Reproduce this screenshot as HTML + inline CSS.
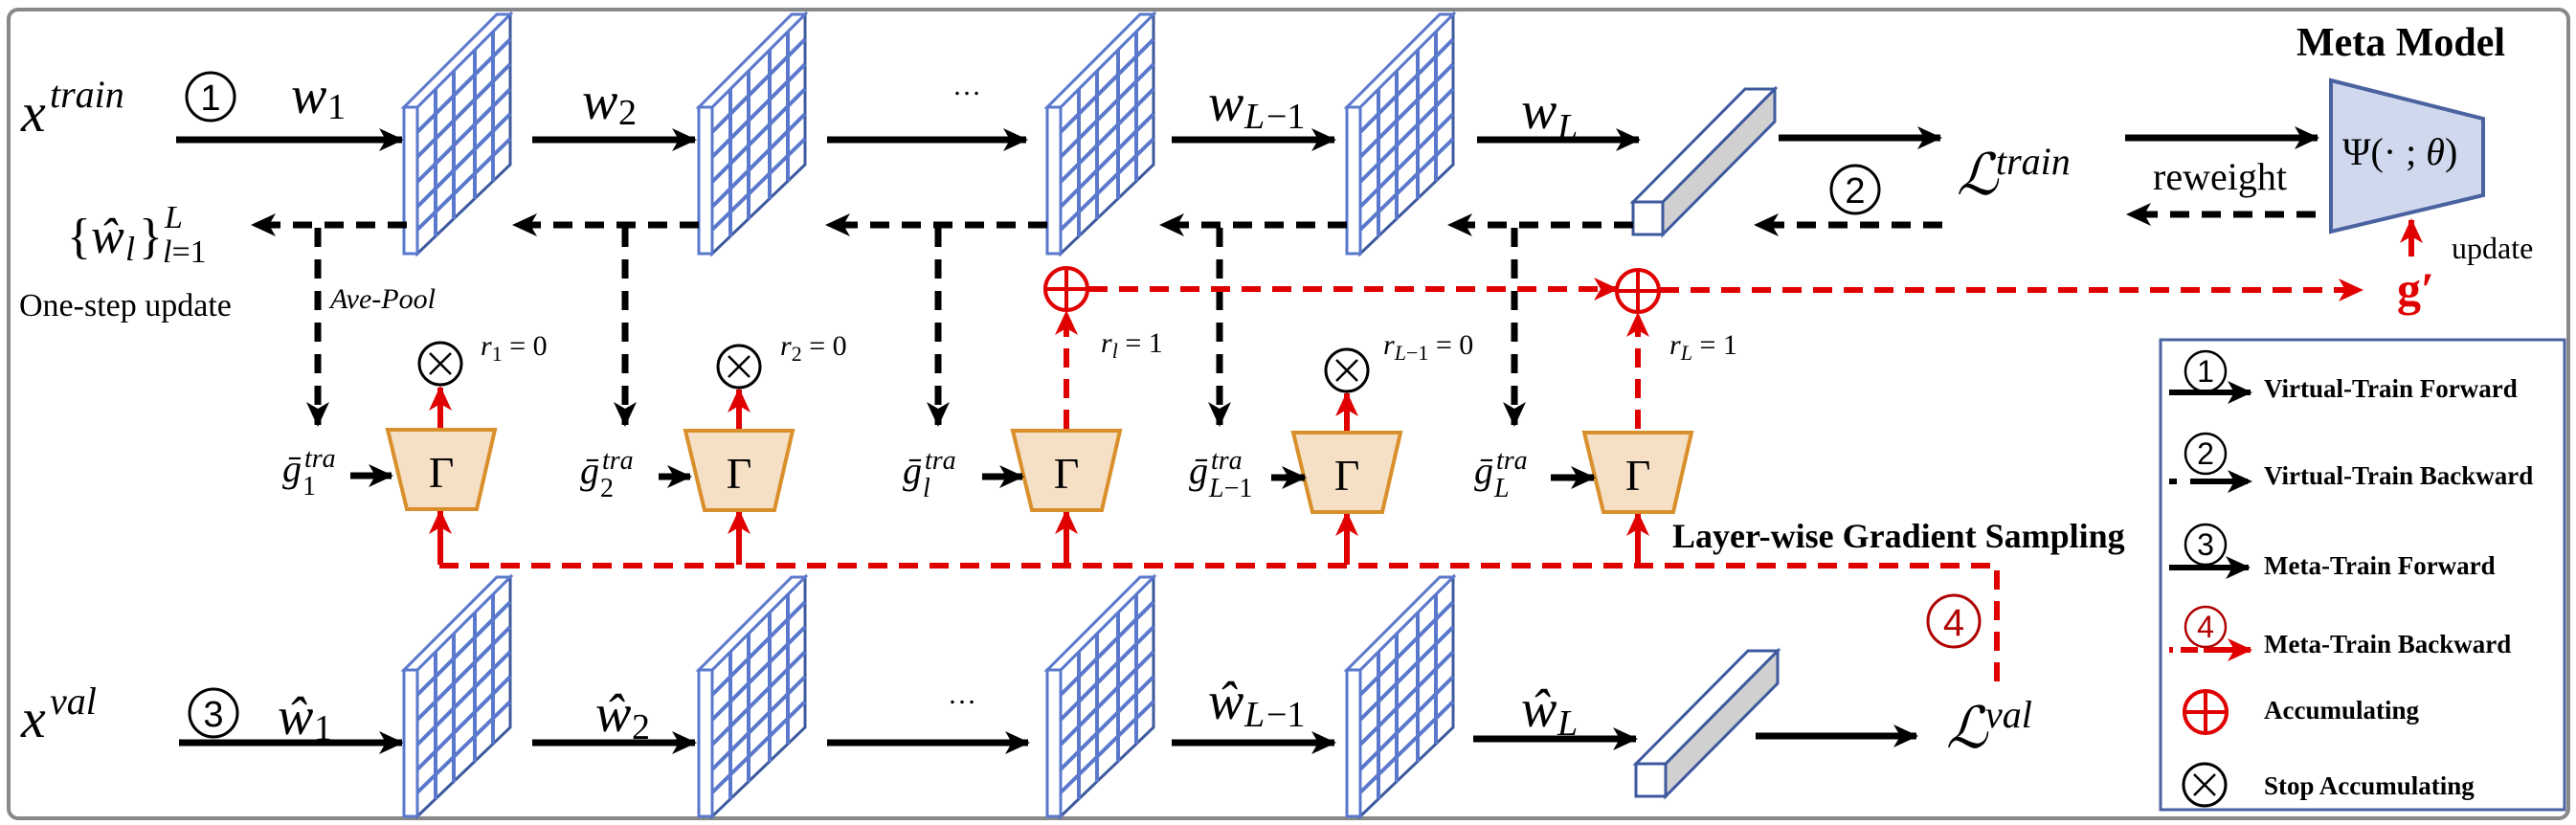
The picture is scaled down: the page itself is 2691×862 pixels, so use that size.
<!DOCTYPE html>
<html><head><meta charset="utf-8"><style>
html,body{margin:0;padding:0;background:#fff}
svg{display:block}
.m{font-family:"Liberation Serif",serif;font-style:italic}
.s{font-family:"Liberation Serif",serif;font-style:normal}
.b{font-family:"Liberation Serif",serif;font-weight:bold}
.c{font-family:"Liberation Sans",sans-serif}
</style></head><body>
<svg width="2691" height="862" viewBox="0 0 2691 862" xmlns="http://www.w3.org/2000/svg">
<defs>
<marker id="ab" markerUnits="userSpaceOnUse" markerWidth="26" markerHeight="24" refX="24" refY="12" orient="auto"><path d="M0,0 L26,12 L0,24 L7,12 z" fill="#000"/></marker>
<marker id="ar" markerUnits="userSpaceOnUse" markerWidth="26" markerHeight="24" refX="24" refY="12" orient="auto"><path d="M0,0 L26,12 L0,24 L7,12 z" fill="#e00000"/></marker>
<g id="pn">
<polygon points="14,0 111,-97 111,60 14,153" fill="#fff" stroke="#3d5a9e" stroke-width="3"/>
<g stroke="#5a78cc" stroke-width="4">
<line x1="33" y1="-19" x2="33" y2="135"/><line x1="52" y1="-38" x2="52" y2="117"/><line x1="74" y1="-60" x2="74" y2="96"/><line x1="93" y1="-79" x2="93" y2="77"/>
<line x1="14" y1="26" x2="111" y2="-71"/><line x1="14" y1="52" x2="111" y2="-45"/><line x1="14" y1="78" x2="111" y2="-19"/><line x1="14" y1="104" x2="111" y2="7"/><line x1="14" y1="128" x2="111" y2="33"/>
</g>
<polygon points="0,0 97,-97 111,-97 14,0" fill="#fff" stroke="#5a78cc" stroke-width="3"/>
<rect x="0" y="0" width="14" height="153" fill="#fff" stroke="#5a78cc" stroke-width="3"/>
</g>
<g id="bar">
<polygon points="31,0 148,-118 148,-84 31,34" fill="#d0d0d0" stroke="#3d5a9e" stroke-width="3"/>
<polygon points="0,0 117,-118 148,-118 31,0" fill="#fff" stroke="#3d5a9e" stroke-width="3"/>
<rect x="0" y="0" width="31" height="34" fill="#fff" stroke="#3d5a9e" stroke-width="3"/>
</g>
<g id="gam">
<polygon points="-56,0 56,0 37,83 -36,83" fill="#f5e0c5" stroke="#d98f2b" stroke-width="4"/>
<text x="0" y="60" text-anchor="middle" class="s" font-size="46">Γ</text>
</g>
<g id="ot"><circle r="22" fill="#fff" stroke="#000" stroke-width="3"/><path d="M-11,-11 L11,11 M11,-11 L-11,11" stroke="#000" stroke-width="2.5"/></g>
<g id="op"><circle r="22" fill="#fff" stroke="#e00000" stroke-width="4"/><path d="M-22,0 L22,0 M0,-22 L0,22" stroke="#e00000" stroke-width="4"/></g>
</defs>

<rect x="9" y="10" width="2674" height="845" rx="10" fill="#fff" stroke="#888" stroke-width="4"/>

<text x="22" y="137" class="m" font-size="58">x</text><text x="52" y="112" class="m" font-size="40">train</text>
<circle cx="220" cy="101" r="25" fill="none" stroke="#000" stroke-width="3"/><text x="220" y="115" text-anchor="middle" class="c" font-size="38">1</text>
<text x="304" y="118" class="m" font-size="56">w</text><text x="342" y="124" class="s" font-size="38">1</text>
<text x="608" y="124" class="m" font-size="56">w</text><text x="646" y="130" class="s" font-size="38">2</text>
<text x="995" y="99" class="s" font-size="30">…</text>
<text x="1262" y="126" class="m" font-size="56">w</text><text x="1300" y="134" class="m" font-size="38">L</text><text x="1323" y="134" class="s" font-size="38">−1</text>
<text x="1589" y="134" class="m" font-size="56">w</text><text x="1627" y="145" class="m" font-size="38">L</text>

<g stroke="#000" stroke-width="7" fill="none">
<line x1="184" y1="146" x2="420" y2="146" marker-end="url(#ab)"/>
<line x1="556" y1="146" x2="726" y2="146" marker-end="url(#ab)"/>
<line x1="864" y1="146" x2="1072" y2="146" marker-end="url(#ab)"/>
<line x1="1224" y1="146" x2="1394" y2="146" marker-end="url(#ab)"/>
<line x1="1543" y1="146" x2="1712" y2="146" marker-end="url(#ab)"/>
<line x1="1858" y1="144" x2="2027" y2="144" marker-end="url(#ab)"/>
<line x1="2220" y1="144" x2="2421" y2="144" marker-end="url(#ab)"/>
</g>
<use href="#pn" x="422" y="112"/><use href="#pn" x="730" y="112"/><use href="#pn" x="1094" y="112"/><use href="#pn" x="1407" y="112"/>
<use href="#bar" x="1706" y="211"/>

<text x="2044" y="203" class="m" font-size="60">ℒ</text><text x="2085" y="182" class="m" font-size="40">train</text>
<circle cx="1938" cy="198" r="25" fill="none" stroke="#000" stroke-width="3"/><text x="1938" y="212" text-anchor="middle" class="c" font-size="38">2</text>
<text x="2249" y="198" class="s" font-size="40">reweight</text>
<text x="2399" y="58" class="b" font-size="42">Meta Model</text>
<polygon points="2435,84 2594,124 2594,204 2435,242" fill="#d0d8ee" stroke="#4a62a0" stroke-width="4"/>
<text x="2447" y="172" class="s" font-size="40">Ψ(·<tspan class="s"> ; </tspan><tspan class="m">θ</tspan>)</text>
<line x1="2519" y1="268" x2="2519" y2="230" stroke="#e00000" stroke-width="6" marker-end="url(#ar)"/>
<text x="2561" y="270" class="s" font-size="32">update</text>
<text x="2504" y="319" class="b" font-size="50" fill="#e00000">g′</text>

<g stroke="#000" stroke-width="7" fill="none" stroke-dasharray="20,13">
<line x1="425" y1="235" x2="264" y2="235" marker-end="url(#ab)"/>
<line x1="730" y1="235" x2="537" y2="235" marker-end="url(#ab)"/>
<line x1="1094" y1="235" x2="864" y2="235" marker-end="url(#ab)"/>
<line x1="1407" y1="235" x2="1213" y2="235" marker-end="url(#ab)"/>
<line x1="1706" y1="235" x2="1514" y2="235" marker-end="url(#ab)"/>
<line x1="2029" y1="235" x2="1834" y2="235" marker-end="url(#ab)"/>
<line x1="2419" y1="224" x2="2223" y2="224" marker-end="url(#ab)"/>
<line x1="332" y1="238" x2="332" y2="444" marker-end="url(#ab)"/>
<line x1="653" y1="238" x2="653" y2="444" marker-end="url(#ab)"/>
<line x1="980" y1="238" x2="980" y2="444" marker-end="url(#ab)"/>
<line x1="1274" y1="238" x2="1274" y2="444" marker-end="url(#ab)"/>
<line x1="1582" y1="238" x2="1582" y2="444" marker-end="url(#ab)"/>
</g>
<text x="70" y="264" class="s" font-size="52">{</text>
<text x="95" y="264" class="m" font-size="52">ŵ</text>
<text x="131" y="272" class="m" font-size="36">l</text>
<text x="145" y="264" class="s" font-size="52">}</text>
<text x="172" y="238" class="m" font-size="34">L</text><text x="170" y="274" class="m" font-size="34">l<tspan class="s">=1</tspan></text>
<text x="20" y="330" class="s" font-size="34">One-step update</text>
<text x="345" y="322" class="m" font-size="30">Ave-Pool</text>

<g stroke="#e00000" stroke-width="6" fill="none" stroke-dasharray="20,12">
<line x1="1137" y1="302" x2="1689" y2="302" marker-end="url(#ar)"/>
<line x1="1734" y1="303" x2="2467" y2="303" marker-end="url(#ar)"/>
<line x1="1114" y1="448" x2="1114" y2="326" marker-end="url(#ar)"/>
<line x1="1711" y1="448" x2="1711" y2="328" marker-end="url(#ar)"/>
<polyline points="459,591 2086,591 2086,715"/>
</g>
<use href="#op" x="1114" y="302"/><use href="#op" x="1711" y="304"/>
<g stroke="#e00000" stroke-width="6">
<line x1="460" y1="448" x2="460" y2="405" marker-end="url(#ar)"/>
<line x1="772" y1="448" x2="772" y2="407" marker-end="url(#ar)"/>
<line x1="1407" y1="450" x2="1407" y2="411" marker-end="url(#ar)"/>
<line x1="460" y1="590" x2="460" y2="534" marker-end="url(#ar)"/>
<line x1="772" y1="590" x2="772" y2="534" marker-end="url(#ar)"/>
<line x1="1114" y1="590" x2="1114" y2="534" marker-end="url(#ar)"/>
<line x1="1407" y1="590" x2="1407" y2="536" marker-end="url(#ar)"/>
<line x1="1711" y1="590" x2="1711" y2="536" marker-end="url(#ar)"/>
</g>
<use href="#ot" x="460" y="380"/><use href="#ot" x="772" y="383"/><use href="#ot" x="1407" y="387"/>
<use href="#gam" x="461" y="449"/><use href="#gam" x="772" y="450"/><use href="#gam" x="1114" y="450"/><use href="#gam" x="1407" y="452"/><use href="#gam" x="1711" y="452"/>

<g font-size="30">
<text x="502" y="371" class="m">r<tspan class="s" font-size="22" dy="6">1</tspan><tspan class="s" dy="-6"> = 0</tspan></text>
<text x="815" y="371" class="m">r<tspan class="s" font-size="22" dy="6">2</tspan><tspan class="s" dy="-6"> = 0</tspan></text>
<text x="1150" y="368" class="m">r<tspan font-size="22" dy="6">l</tspan><tspan class="s" dy="-6"> = 1</tspan></text>
<text x="1445" y="370" class="m">r<tspan font-size="22" dy="6">L</tspan><tspan class="s" font-size="22">−1</tspan><tspan class="s" dy="-6"> = 0</tspan></text>
<text x="1744" y="370" class="m">r<tspan font-size="22" dy="6">L</tspan><tspan class="s" dy="-6"> = 1</tspan></text>
</g>
<g font-size="40">
<text x="295" y="503" class="m">ḡ</text><text x="318" y="488" class="m" font-size="28">tra</text><text x="316" y="517" class="s" font-size="28">1</text>
<text x="606" y="505" class="m">ḡ</text><text x="629" y="490" class="m" font-size="28">tra</text><text x="627" y="519" class="s" font-size="28">2</text>
<text x="943" y="505" class="m">ḡ</text><text x="966" y="490" class="m" font-size="28">tra</text><text x="964" y="519" class="m" font-size="28">l</text>
<text x="1242" y="505" class="m">ḡ</text><text x="1265" y="490" class="m" font-size="28">tra</text><text x="1263" y="519" class="m" font-size="28">L<tspan class="s">−1</tspan></text>
<text x="1540" y="505" class="m">ḡ</text><text x="1563" y="490" class="m" font-size="28">tra</text><text x="1561" y="519" class="m" font-size="28">L</text>
</g>
<g stroke="#000" stroke-width="7">
<line x1="366" y1="497" x2="409" y2="497" marker-end="url(#ab)"/>
<line x1="688" y1="498" x2="721" y2="498" marker-end="url(#ab)"/>
<line x1="1026" y1="498" x2="1068" y2="498" marker-end="url(#ab)"/>
<line x1="1328" y1="499" x2="1363" y2="499" marker-end="url(#ab)"/>
<line x1="1620" y1="499" x2="1665" y2="499" marker-end="url(#ab)"/>
</g>
<text x="1747" y="572" class="b" font-size="36">Layer-wise Gradient Sampling</text>
<circle cx="2041" cy="649" r="27" fill="none" stroke="#b00000" stroke-width="3"/><text x="2041" y="664" text-anchor="middle" class="c" font-size="40" fill="#b00000">4</text>

<text x="22" y="770" class="m" font-size="58">x</text><text x="52" y="746" class="m" font-size="40">val</text>
<circle cx="223" cy="745" r="25" fill="none" stroke="#000" stroke-width="3"/><text x="223" y="759" text-anchor="middle" class="c" font-size="38">3</text>
<text x="290" y="767" class="m" font-size="56">ŵ</text><text x="328" y="773" class="s" font-size="38">1</text>
<text x="622" y="764" class="m" font-size="56">ŵ</text><text x="660" y="772" class="s" font-size="38">2</text>
<text x="990" y="735" class="s" font-size="30">…</text>
<text x="1262" y="751" class="m" font-size="56">ŵ</text><text x="1300" y="759" class="m" font-size="38">L</text><text x="1323" y="759" class="s" font-size="38">−1</text>
<text x="1589" y="759" class="m" font-size="56">ŵ</text><text x="1627" y="768" class="m" font-size="38">L</text>
<g stroke="#000" stroke-width="7">
<line x1="187" y1="776" x2="420" y2="776" marker-end="url(#ab)"/>
<line x1="556" y1="776" x2="726" y2="776" marker-end="url(#ab)"/>
<line x1="864" y1="776" x2="1074" y2="776" marker-end="url(#ab)"/>
<line x1="1224" y1="776" x2="1394" y2="776" marker-end="url(#ab)"/>
<line x1="1539" y1="772" x2="1709" y2="772" marker-end="url(#ab)"/>
<line x1="1834" y1="769" x2="2002" y2="769" marker-end="url(#ab)"/>
</g>
<use href="#pn" x="422" y="700"/><use href="#pn" x="730" y="700"/><use href="#pn" x="1094" y="700"/><use href="#pn" x="1407" y="700"/>
<use href="#bar" x="1709" y="798"/>
<text x="2033" y="781" class="m" font-size="60">ℒ</text><text x="2074" y="760" class="m" font-size="40">val</text>

<rect x="2257" y="355" width="422" height="491" fill="#fff" stroke="#4a62a0" stroke-width="3"/>
<g stroke-width="6">
<line x1="2266" y1="410" x2="2351" y2="410" stroke="#000" marker-end="url(#ab)"/>
<line x1="2266" y1="503" x2="2351" y2="503" stroke="#000" stroke-dasharray="8,14,60" marker-end="url(#ab)"/>
<line x1="2266" y1="593" x2="2349" y2="593" stroke="#000" marker-end="url(#ab)"/>
<line x1="2266" y1="679" x2="2351" y2="679" stroke="#e00000" stroke-dasharray="4,8,18,6,60" marker-end="url(#ar)"/>
</g>
<g fill="none" stroke-width="2.5">
<circle cx="2304" cy="388" r="21" stroke="#000"/><circle cx="2304" cy="474" r="21" stroke="#000"/><circle cx="2304" cy="569" r="21" stroke="#000"/><circle cx="2304" cy="655" r="21" stroke="#b00000"/>
</g>
<g class="c" font-size="32" text-anchor="middle">
<text x="2304" y="399">1</text><text x="2304" y="485">2</text><text x="2304" y="580">3</text><text x="2304" y="666" fill="#b00000">4</text>
</g>
<use href="#op" x="2304" y="744"/><use href="#ot" x="2303" y="820"/>
<g class="b" font-size="27">
<text x="2365" y="415">Virtual-Train Forward</text>
<text x="2365" y="506">Virtual-Train Backward</text>
<text x="2365" y="600">Meta-Train Forward</text>
<text x="2365" y="682">Meta-Train Backward</text>
<text x="2365" y="751">Accumulating</text>
<text x="2365" y="830">Stop Accumulating</text>
</g>
</svg>
</body></html>
